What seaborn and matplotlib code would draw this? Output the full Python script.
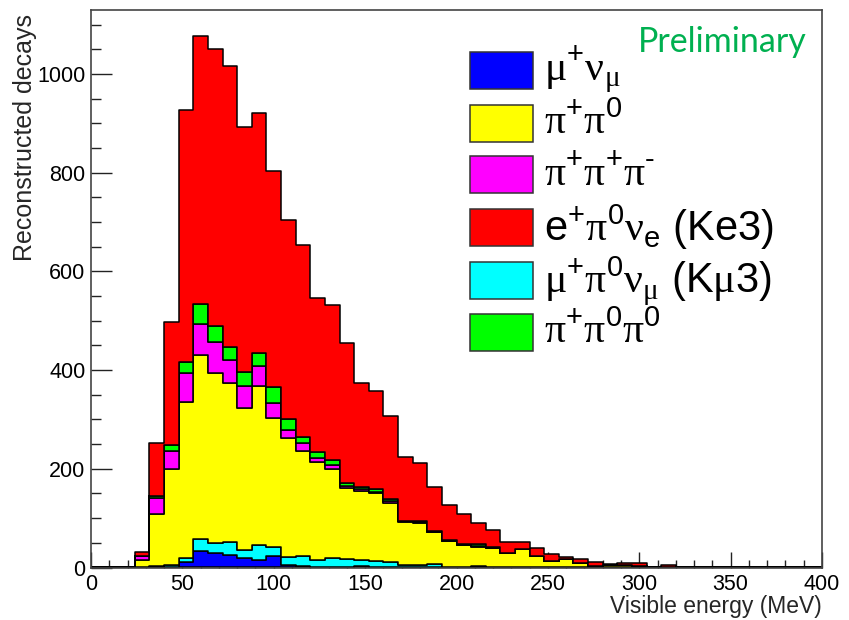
import numpy as np
import pandas as pd
import matplotlib
matplotlib.use("Agg")
import matplotlib.pyplot as plt
import seaborn as sns
from matplotlib.patches import Rectangle
from matplotlib.ticker import MultipleLocator

# ---- data (8 MeV bins, lower edges) ----
bin_low = [24, 32, 40, 48, 56, 64, 72, 80, 88, 96, 104, 112, 120, 128, 136, 144,
           152, 160, 168, 176, 184, 192, 200, 208, 216, 224, 232, 240, 248, 256,
           264, 272, 280, 288, 296, 304, 312]
mu_nu   = [0, 1, 1, 11, 33, 30, 25, 20, 16, 23, 5, 3, 1, 1, 1, 3,
           0, 0, 0, 0, 0, 0, 0, 0, 0, 0, 0, 0, 0, 0,
           0, 0, 0, 0, 0, 0, 0]
kmu3    = [0, 2, 4, 9, 24, 20, 26, 15, 29, 19, 17, 20, 15, 19, 17, 12,
           14, 12, 5, 5, 7, 2, 2, 4, 1, 1, 0, 0, 0, 0,
           0, 0, 0, 0, 0, 0, 0]
pi_pi0  = [16, 106, 195, 315, 374, 344, 323, 289, 322, 262, 240, 214, 197, 180, 143, 141,
           136, 119, 88, 86, 64, 51, 43, 38, 39, 28, 37, 24, 13, 17,
           10, 4, 6, 5, 4, 0, 0]
pi3     = [7, 31, 37, 59, 63, 63, 46, 43, 41, 29, 16, 15, 9, 8, 5, 3,
           4, 3, 1, 2, 1, 1, 1, 2, 0, 0, 0, 0, 0, 0,
           0, 0, 0, 0, 0, 0, 0]
pi_2pi0 = [1, 5, 11, 23, 40, 33, 26, 30, 26, 32, 23, 12, 12, 10, 5, 4,
           5, 4, 1, 2, 2, 1, 1, 3, 1, 0, 0, 0, 0, 0,
           0, 0, 0, 0, 0, 0, 0]
ke3     = [7, 108, 250, 511, 543, 561, 571, 496, 487, 439, 404, 389, 313, 314, 285, 210,
           199, 169, 128, 116, 89, 72, 61, 43, 36, 23, 15, 15, 14, 5,
           7, 8, 1, 5, 6, 0, 5]

bin_width = 8
x_max = 400

channels = ["mu_nu", "pi_pi0", "pi3", "ke3", "kmu3", "pi_2pi0"]
legend_labels = [
    r"$\mathrm{\mu}^{+}\mathrm{\nu}_{\mathrm{\mu}}$",
    r"$\mathrm{\pi}^{+}\mathrm{\pi}^{0}$",
    "$\\mathrm{\\pi}^{+}\\mathrm{\\pi}^{+}\\mathrm{\\pi}^{\u2010}$",
    r"$e^{+}\mathrm{\pi}^{0}\mathrm{\nu}_{e}$ (Ke3)",
    r"$\mathrm{\mu}^{+}\mathrm{\pi}^{0}\mathrm{\nu}_{\mathrm{\mu}}$ (K$\mathrm{\mu}$3)",
    r"$\mathrm{\pi}^{+}\mathrm{\pi}^{0}\mathrm{\pi}^{0}$",
]
colors = {"mu_nu": "#0000ff", "pi_pi0": "#ffff00", "pi3": "#ff00ff",
          "ke3": "#ff0000", "kmu3": "#00ffff", "pi_2pi0": "#00ff00"}
# top of stack first
stack_order = ["ke3", "pi_2pi0", "pi3", "pi_pi0", "kmu3", "mu_nu"]
series = {"mu_nu": mu_nu, "pi_pi0": pi_pi0, "pi3": pi3, "ke3": ke3,
          "kmu3": kmu3, "pi_2pi0": pi_2pi0}

rows = []
for ch in channels:
    for lo, c in zip(bin_low, series[ch]):
        rows.append({"energy": lo + bin_width / 2, "count": c, "channel": ch})
df = pd.DataFrame(rows)

sns.set_theme(style="ticks")
plt.rcParams.update({
    "font.family": ["Liberation Sans", "DejaVu Sans"],
    "mathtext.fontset": "custom",
    "mathtext.rm": "Liberation Serif",
    "mathtext.it": "Liberation Serif:italic",
    "mathtext.bf": "Liberation Serif:bold",
    "mathtext.sf": "Liberation Sans",
    "mathtext.default": "regular",
})

W, H = 849, 620
fig = plt.figure(figsize=(W / 100, H / 100), dpi=100)
ax = fig.add_axes([91 / W, 1 - 567.5 / H, 731 / W, 557.5 / H])

edges = np.arange(0, x_max + bin_width, bin_width).tolist()
sns.histplot(data=df, x="energy", weights="count", hue="channel",
             hue_order=stack_order, palette=colors, multiple="stack",
             bins=edges, element="step", fill=True, alpha=1,
             edgecolor="black", linewidth=1.1, legend=False, ax=ax)

ax.set_xlim(0, x_max)
ax.set_ylim(0, 1130)
ax.xaxis.set_major_locator(MultipleLocator(50))
ax.xaxis.set_minor_locator(MultipleLocator(10))
ax.yaxis.set_major_locator(MultipleLocator(200))
ax.yaxis.set_minor_locator(MultipleLocator(50))
ax.tick_params(axis="both", which="both", direction="in", top=False,
               right=False, colors="#222222", labelcolor="black", width=1.0)
ax.tick_params(axis="x", which="major", length=11.5, labelsize=15.5, pad=5)
ax.tick_params(axis="x", which="minor", length=5.5)
ax.tick_params(axis="y", which="major", length=15, labelsize=15.5, pad=4)
ax.tick_params(axis="y", which="minor", length=7.5)
for s in ax.spines.values():
    s.set_visible(True)
    s.set_color("#444444")
    s.set_linewidth(1.2)

ax.set_xlabel("Visible energy (MeV)", fontsize=16.5, loc="right")
ax.xaxis.set_label_coords(1.0, (567.5 - 595) / 557.5)
ax.set_ylabel("Reconstructed decays", fontsize=18, loc="top")
ax.yaxis.set_label_coords((37 - 91) / 731, (567.5 - 14) / 557.5)

# legend (ROOT style, no frame)
box_x, box_w, box_h = 469.5, 63, 37
centers = [70.5, 123, 175, 227.5, 280.3, 332]
for ch, lab, yc in zip(channels, legend_labels, centers):
    fig.add_artist(Rectangle((box_x / W, 1 - (yc + box_h / 2) / H), box_w / W, box_h / H,
                             transform=fig.transFigure, facecolor=colors[ch],
                             edgecolor="#333333", linewidth=1.1))
    fig.text(544 / W, 1 - yc / H, lab, fontsize=30, va="center", ha="left",
             color="black")

fig.text(807 / W, 1 - 52 / H, "Preliminary", fontsize=24.5, color="#00b050",
         ha="right", va="baseline", family=["Lato", "DejaVu Sans"])

fig.savefig("out.png", dpi=100)
